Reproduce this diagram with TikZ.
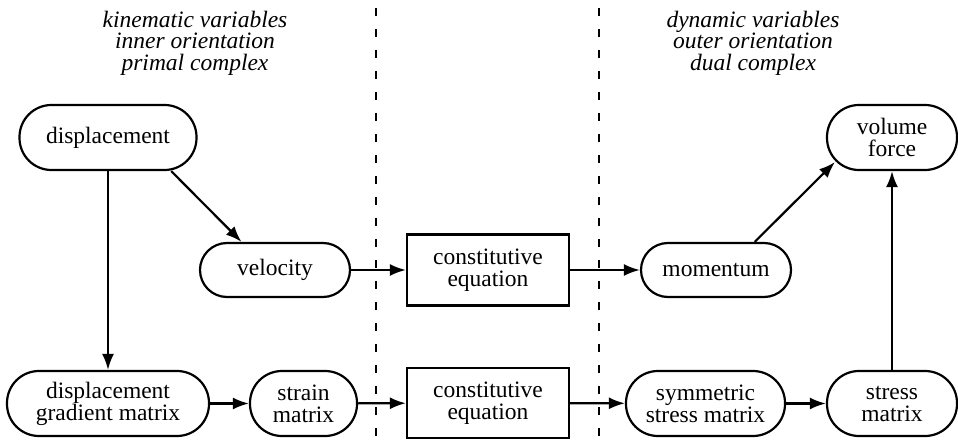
\documentclass[tikz,border=0pt]{standalone}
\usepackage{fontspec}
\setmainfont{Liberation Serif}
\newfontfamily\diagramfont{Liberation Serif}
\usepackage{tikz}
\usetikzlibrary{arrows.meta}
\usetikzlibrary{calc}
\tikzset{my_diagram/.style={x=1pt,y=-1pt,->,>={Latex[length=16pt,width=12pt]},line width=2.2pt,font=\diagramfont\fontsize{23.5}{22}\selectfont}}
\tikzset{my_quantity/.style={draw, align=center, inner sep=0pt, minimum height=65pt, rounded corners=32pt}}
\tikzset{my_short_quantity/.style={my_quantity, minimum height=54pt, rounded corners=27pt}}
\tikzset{my_equation/.style={draw, align=center, inner sep=0pt, minimum width=162pt, minimum height=71pt}}
\tikzset{my_header/.style={align=center, font=\diagramfont\itshape\fontsize{23.5}{21.5}\selectfont}}
\tikzset{my_divider/.style={-, dash pattern=on 8pt off 13pt}}

\begin{document}
\begin{tikzpicture}[my_diagram]
    \useasboundingbox (0,0) rectangle (958,443);
    %\draw[help lines,step=50] (0,0) grid (958,443);
    \node[my_header] (kinematic) at (195,43) {kinematic variables\\inner orientation\\primal complex};
    \node[my_header] (dynamic) at (753,43) {dynamic variables\\outer orientation\\dual complex};

    \draw[my_divider] (376,8) -- (376,443);
    \draw[my_divider] (599,8) -- (599,443);

    \node[my_quantity, minimum width=177pt] (displacement) at (108,137.5) {displacement};
    \node[my_short_quantity, minimum width=150pt] (velocity) at (275,270) {velocity};
    \node[my_quantity, minimum width=202pt] (gradient) at (108,403.5) {displacement\\gradient matrix};
    \node[my_quantity, minimum width=107pt] (strain) at (303.5,403.5) {strain\\matrix};
    \node[my_equation] (law_top) at (488,270) {constitutive\\equation};
    \node[my_equation, minimum height=70pt] (law_bottom) at (488,403) {constitutive\\equation};
    \node[my_short_quantity, minimum width=150pt] (momentum) at (716,270) {momentum};
    \node[my_quantity, minimum width=159pt] (symmetric) at (705.5,403.5) {symmetric\\stress matrix};
    \node[my_quantity, minimum width=130pt] (stress) at (892,403.5) {stress\\matrix};
    \node[my_quantity, minimum width=130pt] (volume) at (892,137.5) {volume\\force};

    \path
        (displacement) edge (gradient)
        (displacement.-28) edge (velocity.140)
        (velocity) edge (law_top)
        (law_top) edge (momentum)
        (momentum.36) edge ($(volume.south west)+(9,-9)$)
        (gradient) edge (strain)
        (strain) edge (law_bottom)
        (law_bottom) edge (symmetric)
        (symmetric) edge (stress)
        (stress) edge (volume)
    ;
\end{tikzpicture}
\end{document}
